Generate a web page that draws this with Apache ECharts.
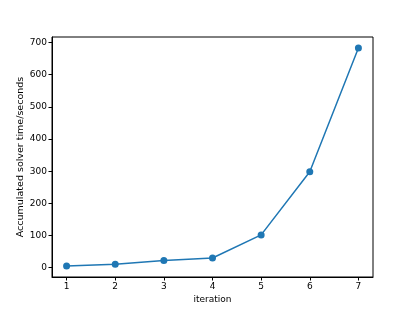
<!DOCTYPE html>
<html><head><meta charset="utf-8">
<script src="https://cdn.jsdelivr.net/npm/echarts@6/dist/echarts.min.js"></script>
<style>html,body{margin:0;padding:0;background:#fff}#c{width:415px;height:312px}</style>
</head><body><div id="c"></div>
<script>
var iterations = [1, 2, 3, 4, 5, 6, 7];
var solverTime = [5, 10.5, 22, 30, 102, 298, 683];
var xTicks = [1, 2, 3, 4, 5, 6, 7];
var yTicks = [0, 100, 200, 300, 400, 500, 600, 700];

var chart = echarts.init(document.getElementById('c'));
var font = 'DejaVu Sans';
var fs = 9;
chart.setOption({
  animation: false,
  grid: {left: 52, right: 42, top: 37, bottom: 35, show: true, borderColor: '#000', borderWidth: 1, backgroundColor: 'transparent'},
  xAxis: {
    type: 'value', min: 0.7, max: 7.3,
    name: 'iteration', nameLocation: 'middle', nameGap: 18, nameMoveOverlap: false,
    nameTextStyle: {fontFamily: font, fontSize: fs, color: '#000'},
    axisLine: {show: true, onZero: false, lineStyle: {color: '#000', width: 1}},
    axisTick: {show: true, length: 3.5, lineStyle: {color: '#000'}, customValues: xTicks},
    axisLabel: {fontFamily: font, fontSize: fs, color: '#000', margin: 5, customValues: xTicks},
    splitLine: {show: false}
  },
  yAxis: {
    type: 'value', min: -28.9, max: 716.9,
    name: 'Accumulated solver time/seconds', nameLocation: 'middle', nameGap: 26, nameMoveOverlap: false,
    nameTextStyle: {fontFamily: font, fontSize: 9.5, color: '#000'},
    axisLine: {show: true, onZero: false, lineStyle: {color: '#000', width: 1}},
    axisTick: {show: true, length: 3.5, lineStyle: {color: '#000'}, customValues: yTicks},
    axisLabel: {fontFamily: font, fontSize: fs, color: '#000', margin: 5, customValues: yTicks},
    splitLine: {show: false}
  },
  series: [{
    type: 'line',
    data: iterations.map(function (x, i) { return [x, solverTime[i]]; }),
    symbol: 'circle', symbolSize: 7,
    lineStyle: {color: '#1f77b4', width: 1.5},
    itemStyle: {color: '#1f77b4'}
  }]
});
</script></body></html>
